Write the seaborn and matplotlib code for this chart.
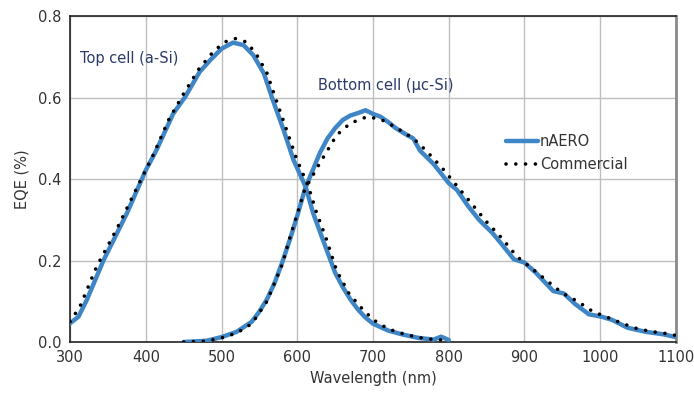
import numpy as np
import pandas as pd
import matplotlib
matplotlib.use("Agg")
import matplotlib.pyplot as plt
import seaborn as sns
from matplotlib.lines import Line2D

# ---- data ----
top_n_wl = [300, 311, 322, 344, 375, 400, 414, 436, 452, 471, 485, 500, 515, 529, 542, 556, 567, 582,
            595, 611, 621, 634, 650, 660, 670, 680, 690, 700, 720, 740, 760, 780, 790, 800]
top_n_eqe = [0.046, 0.062, 0.103, 0.20, 0.316, 0.422, 0.471, 0.56, 0.602, 0.663, 0.692, 0.72, 0.735,
             0.729, 0.704, 0.659, 0.598, 0.52, 0.447, 0.381, 0.316, 0.25, 0.17, 0.135, 0.105, 0.08,
             0.06, 0.045, 0.028, 0.018, 0.01, 0.006, 0.013, 0.005]

top_c_wl = [300, 313, 335, 362, 392, 410, 430, 450, 470, 490, 505, 518, 532, 545, 560, 571, 586, 599,
            615, 625, 638, 652, 668, 684, 700, 720, 740, 760, 780, 800]
top_c_eqe = [0.05, 0.087, 0.185, 0.279, 0.393, 0.46, 0.545, 0.61, 0.67, 0.715, 0.737, 0.745, 0.737,
             0.71, 0.66, 0.60, 0.52, 0.45, 0.38, 0.32, 0.255, 0.175, 0.12, 0.085, 0.055, 0.032, 0.02,
             0.011, 0.006, 0.004]

bot_n_wl = [450, 480, 500, 520, 540, 550, 560, 570, 580, 590, 600, 610, 620, 630, 640, 650, 660, 670,
            680, 690, 700, 710, 720, 730, 745, 753, 762, 780, 800, 811, 825, 840, 858, 870, 886, 900,
            915, 938, 952, 967, 985, 1002, 1016, 1036, 1060, 1083, 1100]
bot_n_eqe = [0.0, 0.003, 0.012, 0.025, 0.05, 0.075, 0.105, 0.145, 0.195, 0.25, 0.31, 0.375, 0.42, 0.465,
             0.50, 0.525, 0.545, 0.556, 0.562, 0.569, 0.56, 0.553, 0.54, 0.525, 0.508, 0.50, 0.47, 0.437,
             0.39, 0.373, 0.335, 0.30, 0.267, 0.24, 0.203, 0.195, 0.17, 0.125, 0.119, 0.093, 0.068, 0.062,
             0.054, 0.035, 0.025, 0.019, 0.012]

bot_c_wl = [450, 480, 500, 520, 540, 560, 580, 590, 600, 610, 630, 652, 670, 692, 710, 729, 753, 770,
            790, 810, 830, 850, 870, 890, 910, 930, 950, 970, 990, 1010, 1030, 1050, 1070, 1090, 1100]
bot_c_eqe = [0.0, 0.002, 0.01, 0.022, 0.045, 0.10, 0.19, 0.255, 0.315, 0.375, 0.44, 0.508, 0.537, 0.553,
             0.547, 0.528, 0.50, 0.47, 0.43, 0.385, 0.34, 0.295, 0.255, 0.21, 0.18, 0.15, 0.12, 0.10,
             0.075, 0.06, 0.045, 0.032, 0.025, 0.02, 0.016]

x_ticks = [300, 400, 500, 600, 700, 800, 900, 1000, 1100]
y_ticks = [0.0, 0.2, 0.4, 0.6, 0.8]
series_labels = ["nAERO", "Commercial"]

BLUE = "#3F86C6"
NAVY = "#2B3A67"
TXT = "#333333"
DOTS = (0, (0.01, 2.7))

sns.set_theme(style="whitegrid")
plt.rcParams["font.family"] = ["DejaVu Sans"]

fig = plt.figure(figsize=(6.94, 3.94), dpi=100)
ax = fig.add_axes([0.101, 0.132, 0.873, 0.827])

def df(wl, v):
    return pd.DataFrame({"wl": wl, "eqe": v})

for wl, v in [(top_n_wl, top_n_eqe), (bot_n_wl, bot_n_eqe)]:
    sns.lineplot(data=df(wl, v), x="wl", y="eqe", ax=ax, color=BLUE, lw=3.2,
                 estimator=None, sort=False, zorder=3, solid_capstyle="round")
for wl, v in [(top_c_wl, top_c_eqe), (bot_c_wl, bot_c_eqe)]:
    sns.lineplot(data=df(wl, v), x="wl", y="eqe", ax=ax, color="black", lw=2.6,
                 estimator=None, sort=False, zorder=4)
    ln = ax.lines[-1]
    ln.set_linestyle(DOTS)
    ln.set_dash_capstyle("round")

ax.set_xlim(300, 1100)
ax.set_ylim(0, 0.8)
ax.set_xticks(x_ticks)
ax.set_yticks(y_ticks)
ax.set_xticklabels([str(t) for t in x_ticks])
ax.set_yticklabels([f"{t:.1f}" for t in y_ticks])
ax.tick_params(axis="both", labelsize=10.5, colors=TXT, length=0, pad=6)
ax.set_xlabel("Wavelength (nm)", fontsize=10.5, color=TXT, labelpad=4)
ax.set_ylabel("EQE (%)", fontsize=10.5, color=TXT, labelpad=6)

ax.grid(True, color="#BEBEBE", lw=1.0)
ax.set_facecolor("white")
for s in ["left", "bottom", "top"]:
    ax.spines[s].set_color("#222222")
    ax.spines[s].set_linewidth(1.2)
ax.spines["right"].set_color("#8A8A8A")
ax.spines["right"].set_linewidth(2.0)

ax.text(313, 0.695, "Top cell (a-Si)", color=NAVY, fontsize=10.5, va="center", ha="left")
ax.text(628, 0.63, "Bottom cell (\u00b5c-Si)", color=NAVY, fontsize=10.5, va="center", ha="left")

handles = [Line2D([], [], color=BLUE, lw=3.2),
           Line2D([], [], color="black", lw=2.6, linestyle=DOTS, dash_capstyle="round")]
leg = ax.legend(handles, series_labels, loc="upper left", bbox_to_anchor=(0.71, 0.655),
                frameon=False, fontsize=10.5, handlelength=2.2, handletextpad=0.1,
                labelspacing=0.55, borderaxespad=0)
for t in leg.get_texts():
    t.set_color(TXT)

fig.savefig("out.png", dpi=100, facecolor="white")
